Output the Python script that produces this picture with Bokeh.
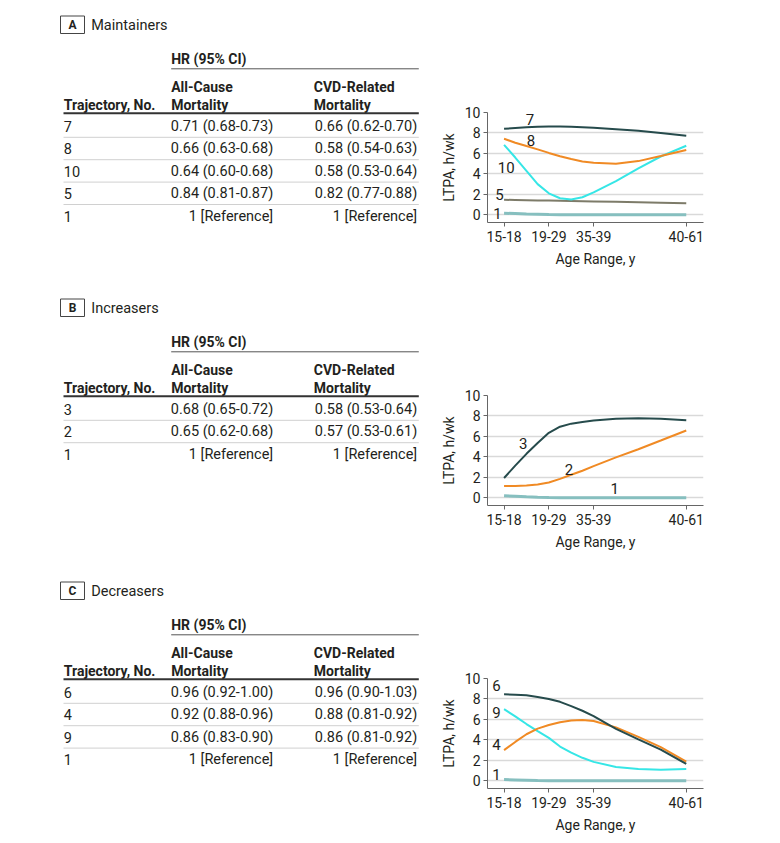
from bokeh.plotting import figure
from bokeh.layouts import column, row
from bokeh.models import Range1d, FixedTicker
from bokeh.core.properties import value
from bokeh.embed import file_html
from bokeh.resources import INLINE

FONT = "Roboto"

# ---------------- data ----------------
AGE_LABELS = ["15-18", "19-29", "35-39", "40-61"]
AGE_POS = [0, 1, 2, 4.07]
X = [0, 0.25, 0.5, 0.75, 1, 1.25, 1.5, 1.75, 2, 2.5, 3, 3.5, 4.07]
Y_TICKS = [0, 2, 4, 6, 8, 10]

A_TRAJ = ["7", "8", "10", "5", "1"]
A_ALL = ["0.71 (0.68-0.73)", "0.66 (0.63-0.68)", "0.64 (0.60-0.68)", "0.84 (0.81-0.87)", "1 [Reference]"]
A_CVD = ["0.66 (0.62-0.70)", "0.58 (0.54-0.63)", "0.58 (0.53-0.64)", "0.82 (0.77-0.88)", "1 [Reference]"]
A7 = [8.40, 8.48, 8.55, 8.60, 8.63, 8.63, 8.61, 8.57, 8.50, 8.36, 8.21, 8.00, 7.73]
A8 = [7.43, 7.05, 6.72, 6.40, 6.05, 5.73, 5.45, 5.22, 5.08, 5.00, 5.25, 5.75, 6.33]
A10 = [6.84, 5.60, 4.30, 3.00, 2.10, 1.62, 1.50, 1.72, 2.20, 3.30, 4.55, 5.70, 6.75]
A5 = [1.47, 1.45, 1.43, 1.41, 1.39, 1.37, 1.35, 1.33, 1.31, 1.27, 1.23, 1.19, 1.14]
A1 = [0.16, 0.12, 0.08, 0.05, 0.02, 0.01, 0.0, 0.0, 0.0, 0.0, 0.0, 0.0, 0.0]

B_TRAJ = ["3", "2", "1"]
B_ALL = ["0.68 (0.65-0.72)", "0.65 (0.62-0.68)", "1 [Reference]"]
B_CVD = ["0.58 (0.53-0.64)", "0.57 (0.53-0.61)", "1 [Reference]"]
B3 = [1.94, 3.15, 4.30, 5.35, 6.35, 6.95, 7.25, 7.42, 7.55, 7.72, 7.77, 7.72, 7.58]
B2 = [1.16, 1.16, 1.20, 1.30, 1.50, 1.85, 2.25, 2.65, 3.10, 3.95, 4.75, 5.60, 6.58]
B1 = [0.20, 0.15, 0.10, 0.06, 0.03, 0.01, 0.0, 0.0, 0.0, 0.0, 0.0, 0.0, 0.0]

C_TRAJ = ["6", "4", "9", "1"]
C_ALL = ["0.96 (0.92-1.00)", "0.92 (0.88-0.96)", "0.86 (0.83-0.90)", "1 [Reference]"]
C_CVD = ["0.96 (0.90-1.03)", "0.88 (0.81-0.92)", "0.86 (0.81-0.92)", "1 [Reference]"]
C6 = [8.45, 8.42, 8.36, 8.20, 8.00, 7.72, 7.30, 6.85, 6.33, 5.07, 4.05, 3.05, 1.65]
C4 = [3.00, 3.80, 4.55, 5.10, 5.45, 5.72, 5.90, 5.95, 5.85, 5.22, 4.30, 3.30, 1.88]
C9 = [7.00, 6.30, 5.55, 4.85, 4.20, 3.35, 2.75, 2.25, 1.85, 1.35, 1.15, 1.08, 1.15]
C1 = [0.12, 0.09, 0.06, 0.03, 0.01, 0.0, 0.0, 0.0, 0.0, 0.0, 0.0, 0.0, 0.0]

DARK = "#264b4c"
ORANGE = "#f08a24"
CYAN = "#36e6e6"
GRAY = "#7d7b69"
LIGHT = "#86bfbf"
TXT = "#231f20"

# ---------------- layout ----------------
TW = 428
CW = 352
H_A = 283
H_B = 283
H_C = 277
FS = "14.5px"
FS_HEAD = "14px"
FS_AX = "14px"
FRAME_TOP = 112
FRAME_H = 110


def table_fig(letter, title, traj, allc, cvd, H):
    p = figure(width=TW, height=H, x_range=Range1d(0, TW), y_range=Range1d(H, 0),
               output_backend="svg", toolbar_location=None, min_border=0,
               x_axis_location=None, y_axis_location=None, frame_align=False)
    p.grid.visible = False
    p.outline_line_color = None
    # panel letter box
    p.quad(left=[60], right=[84], top=[15.5], bottom=[33], fill_color=None,
           line_color="#444444", line_width=1)
    p.text(x=[72], y=[24.5], text=[letter], text_align="center", text_baseline="middle",
           text_font=value(FONT), text_font_size="12px", text_font_style="bold", text_color=TXT)
    p.text(x=[90.7], y=[24.5], text=[title], text_align="left", text_baseline="middle",
           text_font=value(FONT), text_font_size="14.5px", text_color=TXT)
    # headers
    hx = [170.7, 170.7, 170.7, 313.3, 313.3, 63.3]
    hy = [58.3, 86, 104, 86, 104, 104]
    ht = ["HR (95% CI)", "All-Cause", "Mortality", "CVD-Related", "Mortality", "Trajectory, No."]
    p.text(x=hx, y=hy, text=ht, text_align="left", text_baseline="middle",
           text_font=value(FONT), text_font_size=FS_HEAD, text_font_style="bold", text_color=TXT)
    p.segment(x0=[170.7], y0=[68.3], x1=[418.3], y1=[68.3], line_color="#555555", line_width=1)
    p.segment(x0=[63], y0=[112.7], x1=[418.3], y1=[112.7], line_color="#333333", line_width=2)
    n = len(traj)
    ys = [126 + 22.4 * i for i in range(n)]
    p.text(x=[63.3] * n, y=ys, text=traj, text_align="left", text_baseline="middle",
           text_font=value(FONT), text_font_size=FS, text_color=TXT)
    p.text(x=[272.7] * n, y=ys, text=allc, text_align="right", text_baseline="middle",
           text_font=value(FONT), text_font_size=FS, text_color=TXT)
    p.text(x=[416.7] * n, y=ys, text=cvd, text_align="right", text_baseline="middle",
           text_font=value(FONT), text_font_size=FS, text_color=TXT)
    sy = [y + 10.8 for y in ys[:-1]]
    p.segment(x0=[63] * len(sy), y0=sy, x1=[418.3] * len(sy), y1=sy,
              line_color="#d0d0d0", line_width=1)
    return p


def chart_fig(H, series, labels):
    p = figure(width=CW, height=H, x_range=Range1d(-0.37, 4.455), y_range=Range1d(-0.75, 10),
               output_backend="svg", toolbar_location=None,
               min_border_left=59, min_border_right=77, min_border_top=FRAME_TOP,
               min_border_bottom=H - FRAME_TOP - FRAME_H, frame_align=False)
    p.outline_line_color = None
    p.xgrid.visible = False
    p.ygrid.ticker = FixedTicker(ticks=Y_TICKS)
    p.ygrid.grid_line_color = "#d9d9d9"
    p.ygrid.grid_line_width = 1.5
    p.xaxis.ticker = FixedTicker(ticks=AGE_POS)
    p.xaxis.major_label_overrides = {float(k): v for k, v in zip(AGE_POS, AGE_LABELS)}
    p.yaxis.ticker = FixedTicker(ticks=Y_TICKS)
    for ax in (p.xaxis[0], p.yaxis[0]):
        ax.axis_line_color = "#666666"
        ax.major_tick_line_color = "#666666"
        ax.minor_tick_line_color = None
        ax.major_tick_out = 4
        ax.major_tick_in = 0
        ax.major_label_text_font = FONT
        ax.major_label_text_font_size = FS_AX
        ax.major_label_text_color = TXT
        ax.axis_label_text_font = FONT
        ax.axis_label_text_font_size = FS_AX
        ax.axis_label_text_font_style = "normal"
        ax.axis_label_text_color = TXT
    p.xaxis.axis_label = "Age Range, y"
    p.xaxis.major_label_standoff = 4
    p.xaxis.axis_label_standoff = 6
    p.yaxis.axis_label = "LTPA, h/wk"
    p.yaxis.major_label_standoff = 3
    p.yaxis.axis_label_standoff = 5
    for ys, color, w in series:
        p.line(X, ys, line_color=color, line_width=w)
    lx, ly, lt = labels
    p.text(x=lx, y=ly, text=lt, text_align="center", text_baseline="middle",
           text_font=value(FONT), text_font_size="15px", text_color=TXT)
    return p


tA = table_fig("A", "Maintainers", A_TRAJ, A_ALL, A_CVD, H_A)
cA = chart_fig(H_A,
               [(A1, LIGHT, 3), (A5, GRAY, 2), (A10, CYAN, 2), (A8, ORANGE, 2), (A7, DARK, 2)],
               ([0.58, 0.6, 0.05, -0.1, -0.15], [9.33, 7.28, 4.65, 1.96, 0.1], A_TRAJ))
tB = table_fig("B", "Increasers", B_TRAJ, B_ALL, B_CVD, H_B)
cB = chart_fig(H_B,
               [(B1, LIGHT, 3), (B2, ORANGE, 2), (B3, DARK, 2)],
               ([0.43, 1.45, 2.47], [5.32, 2.8, 0.87], B_TRAJ))
tC = table_fig("C", "Decreasers", C_TRAJ, C_ALL, C_CVD, H_C)
cC = chart_fig(H_C,
               [(C1, LIGHT, 3), (C9, CYAN, 2), (C4, ORANGE, 2), (C6, DARK, 2)],
               ([-0.17, -0.17, -0.17, -0.17], [9.29, 3.59, 6.68, 0.65], C_TRAJ))

layout = column(row(tA, cA), row(tB, cB), row(tC, cC))

open("out.html", "w").write(file_html(layout, INLINE))
